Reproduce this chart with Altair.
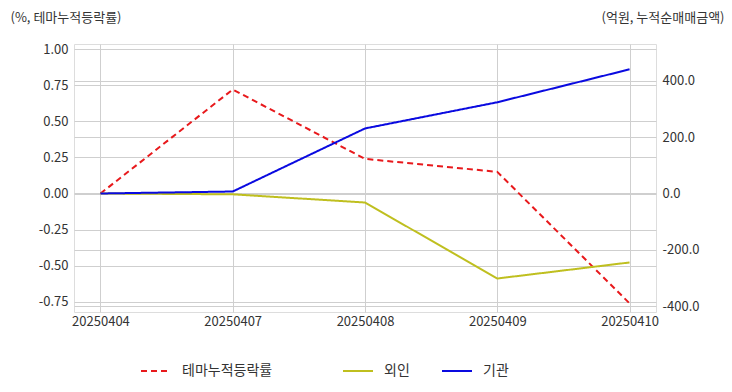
import altair as alt
import pandas as pd

dates = ["20250404", "20250407", "20250408", "20250409", "20250410"]
theme_rate = [0.0, 0.72, 0.24, 0.15, -0.76]
foreign_amt = [0.0, -3.0, -32.0, -302.0, -245.0]
inst_amt = [0.0, 7.0, 231.0, 324.0, 441.0]

left_names = ["테마누적등락률"]
left_colors = ["#e8191c"]
right_names = ["외인", "기관"]
right_colors = ["#bfbf1f", "#0a0ae0"]
left_ticks = [-0.75, -0.5, -0.25, 0.0, 0.25, 0.5, 0.75, 1.0]
right_ticks = [-400, -200, 0, 200, 400]

FONT = "Noto Sans CJK KR"
GRID = "#cfcfcf"
TXT = "#333333"

df_left = pd.DataFrame({"date": dates, "value": theme_rate, "series": left_names[0]})
df_right = pd.concat([
    pd.DataFrame({"date": dates, "value": foreign_amt, "series": right_names[0]}),
    pd.DataFrame({"date": dates, "value": inst_amt, "series": right_names[1]}),
])

x_enc = alt.X("date:N", sort=dates,
              scale=alt.Scale(type="point", padding=0.2),
              axis=alt.Axis(title=None, labelAngle=0, grid=True, domain=False, ticks=False,
                            labelPadding=3, labelFontSize=13, labelColor=TXT,
                            gridColor=GRID, labelFont=FONT))


def legend(x):
    return alt.Legend(title=None, orient="none", direction="horizontal",
                      legendX=x, legendY=311, symbolType="stroke",
                      symbolSize=900, symbolStrokeWidth=2,
                      labelFontSize=14, labelColor=TXT, labelFont=FONT,
                      labelOffset=10, columnPadding=28)


left = alt.Chart(df_left).mark_line(strokeWidth=2).encode(
    x=x_enc,
    y=alt.Y("value:Q",
            scale=alt.Scale(domain=[-0.82, 1.035], nice=False, zero=False),
            axis=alt.Axis(orient="left", values=left_ticks,
                          labelExpr="replace(format(datum.value, '.2f'), '\u2212', '-')",
                          title="(%, 테마누적등락률)", titleAngle=0, titleAlign="left",
                          titleBaseline="middle", titleX=-64, titleY=-27,
                          titleFontSize=13, titleFontWeight="normal", titleColor=TXT,
                          titleFont=FONT,
                          grid=True, gridColor=GRID, domain=False, ticks=False,
                          labelPadding=6, labelFontSize=13, labelColor=TXT, labelFont=FONT)),
    color=alt.Color("series:N", scale=alt.Scale(domain=left_names, range=left_colors),
                    legend=legend(66)),
    strokeDash=alt.StrokeDash("series:N", scale=alt.Scale(domain=left_names, range=[[6, 4]]),
                              legend=legend(66)),
)

right = alt.Chart(df_right).mark_line(strokeWidth=2).encode(
    x=x_enc,
    y=alt.Y("value:Q",
            scale=alt.Scale(domain=[-421, 531], nice=False, zero=False),
            axis=alt.Axis(orient="right", values=right_ticks,
                          labelExpr="replace(format(datum.value, '.1f'), '\u2212', '-')",
                          title="(억원, 누적순매매금액)", titleAngle=0, titleAlign="right",
                          titleBaseline="middle", titleX=68, titleY=-27,
                          titleFontSize=13, titleFontWeight="normal", titleColor=TXT,
                          titleFont=FONT,
                          grid=True, gridColor=GRID, domain=False, ticks=False,
                          labelPadding=6, labelFontSize=13, labelColor=TXT, labelFont=FONT)),
    color=alt.Color("series:N", scale=alt.Scale(domain=right_names, range=right_colors),
                    legend=legend(268)),
    strokeDash=alt.StrokeDash("series:N", scale=alt.Scale(domain=right_names, range=[[1, 0], [1, 0]]),
                              legend=legend(268)),
)

chart = alt.layer(left, right).resolve_scale(
    y="independent", color="independent", strokeDash="independent"
).properties(
    width=582, height=268,
    autosize=alt.AutoSizeParams(type="none"),
    padding={"left": 66, "top": 36, "right": 68, "bottom": 72},
).configure_view(stroke="#c8c8c8", strokeWidth=2).configure(background="white")

chart.save("out.html", embed_options={"renderer": "svg", "actions": False})
